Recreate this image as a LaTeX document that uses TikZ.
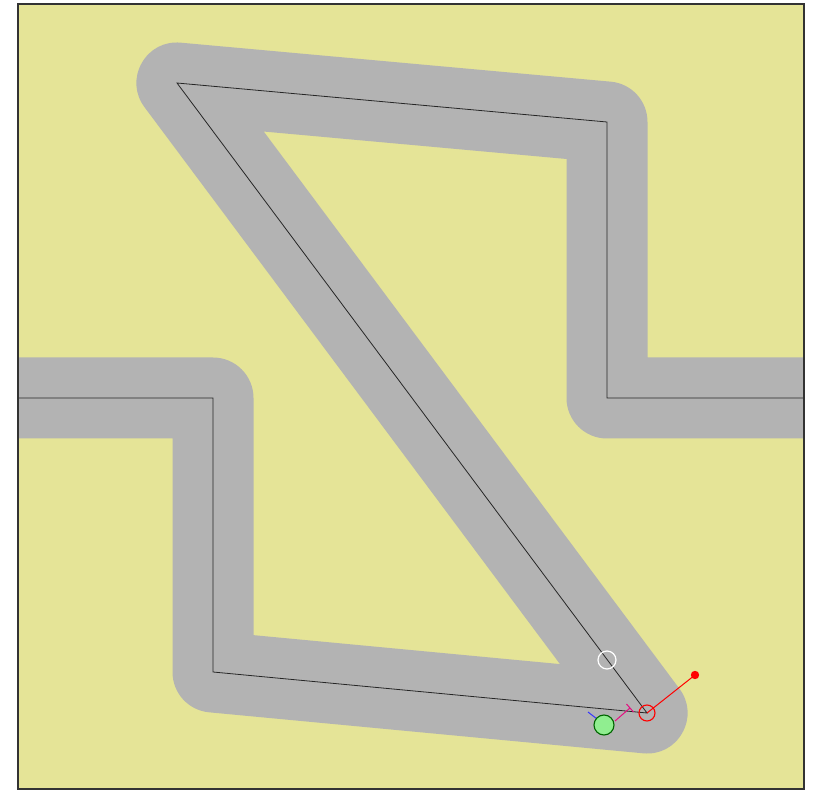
\documentclass[tikz,border=0pt]{standalone}
\begin{document}
\begin{tikzpicture}[x=1pt,y=-1pt,
  track/.style={line width=81pt,color=roadgray,line join=round,line cap=butt},
  centre/.style={line width=0.8pt,color=black!85,line join=miter},
  marker/.style={line width=1pt}]
\definecolor{bgyellow}{HTML}{E5E497}
\definecolor{roadgray}{HTML}{B3B3B3}
\definecolor{lgreen}{HTML}{90EE90}
\useasboundingbox (0,0) rectangle (823,791);
\fill[white] (0,0) rectangle (823,791);
\coordinate (fa) at (18,4);
\coordinate (fb) at (804,789);
\fill[bgyellow] (fa) rectangle (fb);
\coordinate (p0) at (18,398);
\coordinate (p1) at (213,398);
\coordinate (p2) at (213,672);
\coordinate (p3) at (647,713);
\coordinate (p4) at (177,83);
\coordinate (p5) at (607,122);
\coordinate (p6) at (607,398);
\coordinate (p7) at (804,398);
\begin{scope}
\clip (fa) rectangle (fb);
\draw[track] (p0) -- (p1) -- (p2) -- (p3) -- (p4) -- (p5) -- (p6) -- (p7);
\draw[centre] (p0) -- (p1) -- (p2) -- (p3) -- (p4) -- (p5) -- (p6) -- (p7);
\end{scope}
\draw[line width=1.5pt,color=black!80] (fa) rectangle (fb);
% markers
\node[circle,draw=white,line width=1.2pt,minimum size=18pt,inner sep=0pt] (wc) at (607,660) {};
\coordinate (rd) at (695,675);
\draw[marker,red] (p3) -- (rd);
\fill[red] (rd) circle (4.2);
\node[circle,draw=red,line width=1.1pt,minimum size=16pt,inner sep=0pt] (rc) at (p3) {};
\coordinate (ma) at (615,721);
\coordinate (mb) at (630,708);
\coordinate (mt1) at (626.5,704);
\coordinate (mt2) at (633.5,712);
\draw[marker,magenta!80!purple] (ma) -- (mb);
\draw[marker,magenta!80!purple] (mt1) -- (mt2);
\coordinate (ba) at (588,712);
\coordinate (bb) at (597,719);
\draw[marker,blue!80] (ba) -- (bb);
\node[circle,draw=green!40!black,fill=lgreen,line width=1.1pt,minimum size=20pt,inner sep=0pt] (gc) at (604,725) {};
\end{tikzpicture}
\end{document}
